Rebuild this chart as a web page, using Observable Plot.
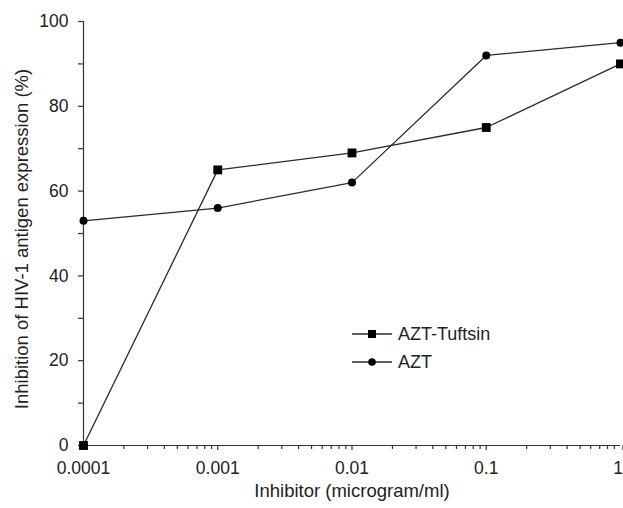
<!DOCTYPE html>
<html><head><meta charset="utf-8">
<script src="https://cdn.jsdelivr.net/npm/d3@7"></script>
<script src="https://cdn.jsdelivr.net/npm/@observablehq/plot@0.6"></script>
<style>
body{margin:0;background:#fff;}
#wrap{position:relative;width:623px;height:508px;font-family:"Liberation Sans",Arial,sans-serif;}
#legend{position:absolute;left:350px;top:320px;font-size:18px;color:#222;}
#legend .row{display:flex;align-items:center;height:28px;}
#legend .row span{margin-left:4px;}
</style></head><body><div id="wrap"><div id="legend"></div></div>
<script>
const concentrations = [0.0001, 0.001, 0.01, 0.1, 1];
const aztTuftsin = [0, 65, 69, 75, 90];
const azt = [53, 56, 62, 92, 95];
const seriesNames = ["AZT-Tuftsin", "AZT"];
const xTickLabels = ["0.0001", "0.001", "0.01", "0.1", "1"];
const yTicks = [0, 20, 40, 60, 80, 100];
const yMinorTicks = [10, 30, 50, 70, 90];
const xMinorMultipliers = [2, 3, 4, 5, 6, 7, 8, 9];
const xLabel = "Inhibitor (microgram/ml)";
const yLabel = "Inhibition of HIV-1 antigen expression (%)";

const rows = [
  ...concentrations.map((c, i) => ({series: seriesNames[0], x: c, y: aztTuftsin[i]})),
  ...concentrations.map((c, i) => ({series: seriesNames[1], x: c, y: azt[i]}))
];
const xMinorTicks = concentrations.slice(0, -1).flatMap(c => xMinorMultipliers.map(m => c * m));
const lastTick = concentrations.slice(-1);
const innerTicks = concentrations.slice(0, -1);
const labelOf = d => xTickLabels[concentrations.indexOf(d)];
const ink = "#222";
const axisInk = "#333";
const font = '"Liberation Sans", Arial, sans-serif';

const chart = Plot.plot({
  width: 623, height: 508,
  marginLeft: 83, marginRight: 3, marginTop: 21, marginBottom: 63,
  style: {fontFamily: font, fontSize: "17.5px", color: ink, background: "#fff", overflow: "visible"},
  x: {type: "log", domain: [0.0001, 1]},
  y: {domain: [0, 100]},
  marks: [
    Plot.axisY({ticks: yTicks, tickSize: 5, tickPadding: 10, stroke: axisInk, strokeWidth: 1.2, label: null}),
    Plot.axisY({ticks: yMinorTicks, tickSize: 5, tickFormat: () => "", stroke: axisInk, strokeWidth: 1.2, label: null}),
    Plot.axisX({ticks: innerTicks, tickSize: 5, tickPadding: 11, stroke: axisInk, strokeWidth: 1.2,
      tickFormat: labelOf, label: null}),
    Plot.axisX({ticks: lastTick, tickSize: 5, tickPadding: 11, stroke: axisInk, strokeWidth: 1.2,
      tickFormat: labelOf, textAnchor: "end", dx: 2.5, label: null}),
    Plot.axisX({ticks: xMinorTicks, tickSize: 4, tickFormat: () => "", stroke: axisInk, strokeWidth: 1.2, label: null}),
    Plot.ruleX([0.0001], {stroke: axisInk, strokeWidth: 1.2}),
    Plot.ruleY([0], {stroke: axisInk, strokeWidth: 1.2}),
    Plot.text([xLabel], {frameAnchor: "bottom", lineAnchor: "top", dy: 38, fontSize: 18.5, fill: ink}),
    Plot.text([yLabel], {frameAnchor: "left", textAnchor: "middle", lineAnchor: "top", rotate: -90, dx: -69, dy: 5.5, fontSize: 18.5, fill: ink}),
    Plot.line(rows, {x: "x", y: "y", z: "series", stroke: "#2a2a2a", strokeWidth: 1.3}),
    Plot.dot(rows.filter(d => d.series === seriesNames[0]), {x: "x", y: "y", symbol: "square", r: 5, fill: "#000"}),
    Plot.dot(rows.filter(d => d.series === seriesNames[1]), {x: "x", y: "y", symbol: "circle", r: 4, fill: "#000"})
  ]
});
document.getElementById("wrap").prepend(chart);

const legend = document.getElementById("legend");
seriesNames.forEach((name, i) => {
  const row = document.createElement("div");
  row.className = "row";
  const marker = i === 0
    ? '<rect x="18" y="10" width="8" height="8" fill="#000"/>'
    : '<circle cx="22" cy="14" r="3.8" fill="#000"/>';
  row.innerHTML = `<svg width="44" height="28"><line x1="2" x2="42" y1="14" y2="14" stroke="#2a2a2a" stroke-width="1.3"/>${marker}</svg><span>${name}</span>`;
  legend.appendChild(row);
});
</script></body></html>
